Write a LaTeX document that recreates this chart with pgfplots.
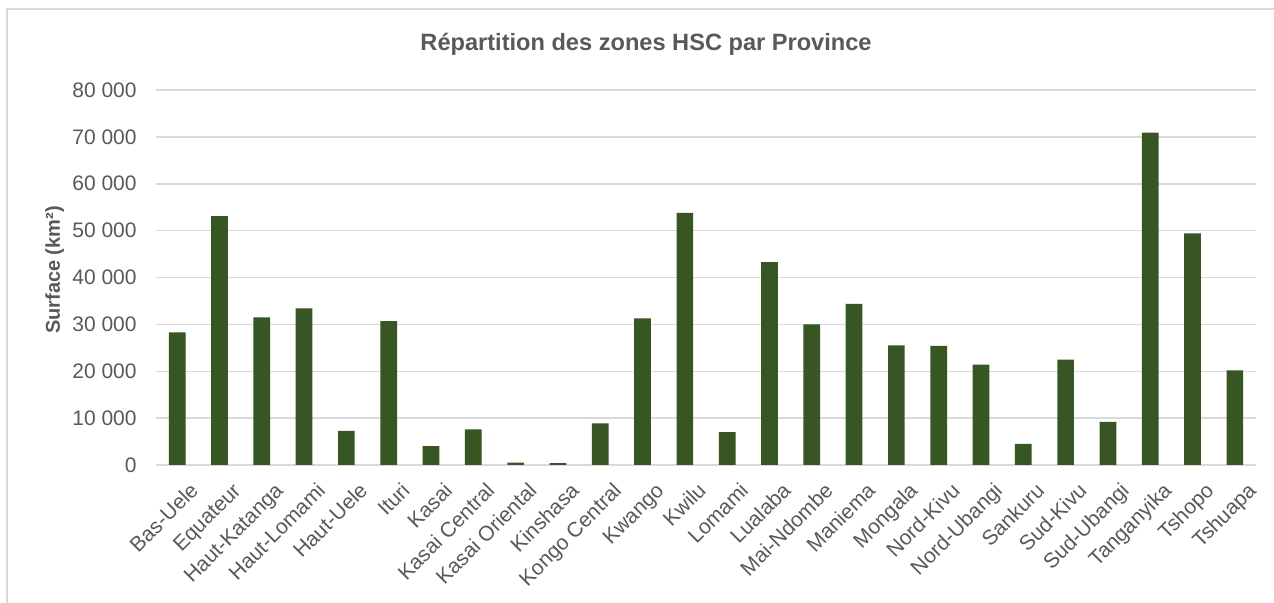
\documentclass[border=0pt]{standalone}
\usepackage{fontspec}
\setmainfont{Liberation Sans}
\usepackage{pgfplots}
\pgfplotsset{compat=1.18}
\definecolor{bargreen}{HTML}{375623}
\definecolor{txtgray}{HTML}{595959}
\definecolor{gridgray}{HTML}{D9D9D9}

\pgfplotstableread[col sep=comma]{
idx,val
0,28300
1,53100
2,31500
3,33400
4,7300
5,30700
6,4000
7,7600
8,500
9,400
10,8900
11,31300
12,53800
13,7000
14,43300
15,30000
16,34400
17,25500
18,25400
19,21400
20,4500
21,22500
22,9200
23,70900
24,49400
25,20200
}\surfaces

\begin{document}
\begin{tikzpicture}
% page = 1274 x 603 px, 1 px = 0.5bp
\useasboundingbox (0,0) rectangle (637bp,301.5bp);
\fill[white] (0,0) rectangle (637bp,301.5bp);
\draw[gridgray, line width=0.9bp] (3.5bp,-10bp) -- (3.5bp,297bp) -- (650bp,297bp);
\begin{axis}[
  at={(78bp,69bp)}, anchor=south west,
  scale only axis,
  width=550bp, height=187.5bp,
  ybar, bar width=8.35bp,
  xmin=-0.5, xmax=25.5,
  ymin=0, ymax=80000,
  xtick=data,
  xticklabels={Bas-Uele,Equateur,Haut-Katanga,Haut-Lomami,Haut-Uele,Ituri,Kasai,Kasai Central,Kasai Oriental,Kinshasa,Kongo Central,Kwango,Kwilu,Lomami,Lualaba,Mai-Ndombe,Maniema,Mongala,Nord-Kivu,Nord-Ubangi,Sankuru,Sud-Kivu,Sud-Ubangi,Tanganyika,Tshopo,Tshuapa},
  ytick={0,10000,...,80000},
  yticklabels={0,10 000,20 000,30 000,40 000,50 000,60 000,70 000,80 000},
  scaled y ticks=false,
  /pgf/number format/assume math mode=true,
  major tick length=0pt,
  tick style={draw=none},
  axis line style={draw=none},
  ymajorgrids,
  grid style={gridgray, line width=0.75bp},
  extra y ticks={0},
  extra y tick labels={},
  extra y tick style={grid style={gridgray, line width=1.1bp}},
  tick label style={font=\fontsize{10.5bp}{12bp}\selectfont, text=txtgray},
  yticklabel style={anchor=east, inner sep=0pt, xshift=-9.5bp},
  xticklabel style={rotate=45, anchor=east, inner sep=0pt,
    text height=0.75em, text depth=0.25em, xshift=-1.5bp, yshift=-15bp},
  every axis title shift=0pt,
  title={Répartition des zones HSC par Province},
  title style={font=\bfseries\fontsize{11.8bp}{14bp}\selectfont, text=txtgray,
    at={(axis description cs:0.4455,1.1053)}, anchor=base},
  ylabel={Surface (km²)},
  ylabel style={font=\bfseries\fontsize{10bp}{12bp}\selectfont, text=txtgray,
    at={(axis description cs:-0.0875,0.52)}, anchor=base, rotate=0},
  clip=false,
]
\addplot[fill=bargreen, draw=none] table[x=idx, y=val] {\surfaces};
\end{axis}
\end{tikzpicture}
\end{document}
